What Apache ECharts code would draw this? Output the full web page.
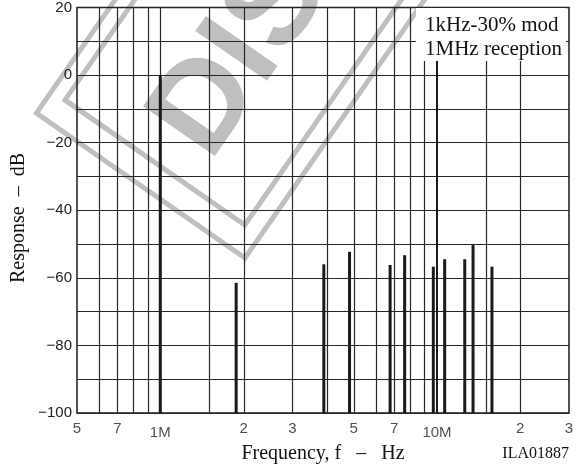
<!DOCTYPE html>
<html>
<head>
<meta charset="utf-8">
<script src="https://cdn.jsdelivr.net/npm/echarts@6/dist/echarts.min.js"></script>
<style>
  html, body { margin: 0; padding: 0; background: #ffffff; }
  #chart { width: 584px; height: 465px; }
</style>
</head>
<body>
<div id="chart"></div>
<script>
// Spectral components at the detector output: frequency (Hz) and level (dB)
const lineFreqs  = [1.0e6, 1.88e6, 3.9e6, 4.83e6, 6.77e6, 7.64e6, 9.7e6, 10.66e6, 12.6e6, 13.5e6, 15.8e6];
const lineLevels = [0, -61.5, -56, -52.3, -56.2, -53.3, -56.7, -54.5, -54.5, -50.3, -56.7];

// Log-frequency grid lines and labelled ticks
const gridFreqs  = [6e5, 7e5, 8e5, 9e5, 1e6, 1.5e6, 2e6, 3e6, 4e6, 5e6, 6e6, 7e6, 8e6, 9e6, 1e7, 1.5e7, 2e7];
const heavyFreqs = [1e7];
const tickFreqs  = [5e5, 7e5, 1e6, 2e6, 3e6, 5e6, 7e6, 1e7, 2e7, 3e7];
const tickLabels = ['5', '7', '1M', '2', '3', '5', '7', '10M', '2', '3'];

// Response axis
const yMin = -100, yMax = 20, yStep = 10;
const yLabelValues = [20, 0, -20, -40, -60, -80, -100];

const GRID_COLOR = '#262626';
const STAMP_GREY = '#bfbfc1';
const SANS = '"Liberation Sans", Arial, sans-serif';
const SERIF = '"Liberation Serif", "Times New Roman", serif';

const chart = echarts.init(document.getElementById('chart'), null, { renderer: 'canvas' });

const option = {
  animation: false,
  backgroundColor: '#ffffff',
  grid: {
    left: 77, right: 15, top: 7, bottom: 52,
    show: true, borderColor: '#1a1a1a', borderWidth: 1.5, backgroundColor: 'transparent'
  },
  xAxis: {
    type: 'log', logBase: 10, min: 5e5, max: 3e7,
    axisLine: { show: false },
    axisTick: { show: false },
    axisLabel: { show: false },
    splitLine: { show: false },
    minorSplitLine: { show: false }
  },
  yAxis: {
    type: 'value', min: yMin, max: yMax, interval: yStep,
    axisLine: { show: false },
    axisTick: { show: false },
    axisLabel: {
      margin: 5,
      color: '#222',
      fontSize: 15,
      fontFamily: SANS,
      formatter: v => yLabelValues.includes(v) ? String(v).replace('-', '\u2212') : ''
    },
    splitLine: { show: true, lineStyle: { color: GRID_COLOR, width: 1.2 } }
  },
  series: [
    {
      // vertical log grid
      type: 'custom',
      name: 'grid',
      silent: true,
      z: 1,
      data: gridFreqs.map(f => [f]),
      renderItem: (params, api) => {
        const f = api.value(0);
        const top = api.coord([f, yMax]);
        const bot = api.coord([f, yMin]);
        const heavy = heavyFreqs.includes(f);
        const x = heavy ? Math.round(top[0]) : Math.round(top[0]) + 0.5;
        return {
          type: 'line',
          shape: { x1: x, y1: top[1], x2: x, y2: bot[1] },
          style: { stroke: heavy ? '#1a1a1a' : GRID_COLOR, lineWidth: heavy ? 2 : 1.2 }
        };
      }
    },
    {
      // spectral lines
      type: 'custom',
      name: 'response',
      silent: true,
      z: 3,
      data: lineFreqs.map((f, i) => [f, lineLevels[i]]),
      renderItem: (params, api) => {
        const f = api.value(0);
        const topPt = api.coord([f, api.value(1)]);
        const botPt = api.coord([f, yMin]);
        const w = 3;
        return {
          type: 'rect',
          shape: { x: topPt[0] - w / 2, y: topPt[1], width: w, height: botPt[1] - topPt[1] },
          style: { fill: '#1a1a1a' }
        };
      }
    },
    {
      // frequency tick labels
      type: 'scatter',
      name: 'ticks',
      silent: true,
      clip: false,
      symbolSize: 0.01,
      itemStyle: { color: 'transparent' },
      data: tickFreqs.map((f, i) => ({
        value: [f, yMin],
        name: tickLabels[i],
        label: { distance: tickLabels[i].includes('M') ? 12 : 8 }
      })),
      label: {
        show: true,
        position: 'bottom',
        formatter: '{b}',
        color: '#222',
        fontSize: 15,
        fontFamily: SANS
      }
    }
  ],
  graphic: {
    elements: [
      {
        type: 'group',
        x: 245, y: 258,
        rotation: 55.2 * Math.PI / 180,
        silent: true,
        z: -1,
        children: [
          { type: 'rect', z: -1, shape: { x: 0, y: -254, width: 1200, height: 254 },
            style: { fill: 'none', stroke: STAMP_GREY, lineWidth: 5 } },
          { type: 'rect', z: -1, shape: { x: 27, y: -238, width: 1200, height: 219 },
            style: { fill: 'none', stroke: STAMP_GREY, lineWidth: 5 } },
          { type: 'text', z: -1, x: 58, y: -118,
            style: { text: 'DISCONTINUED', fill: STAMP_GREY, fontSize: 127, fontWeight: 'bold',
                     fontFamily: SANS, align: 'left', verticalAlign: 'middle' } }
        ]
      },
      {
        type: 'rect', z: 50, silent: true,
        shape: { x: 416, y: 8, width: 150, height: 53 },
        style: { fill: '#ffffff' }
      },
      {
        type: 'text', z: 51, silent: true, x: 425, y: 25,
        style: { text: '1kHz-30% mod', fill: '#111', fontSize: 21, fontFamily: SERIF,
                 align: 'left', verticalAlign: 'middle' }
      },
      {
        type: 'text', z: 51, silent: true, x: 425, y: 49,
        style: { text: '1MHz reception', fill: '#111', fontSize: 21, fontFamily: SERIF,
                 align: 'left', verticalAlign: 'middle' }
      },
      {
        type: 'text', z: 51, silent: true, x: 19, y: 218, rotation: Math.PI / 2,
        style: { text: 'Response  \u2013  dB', fill: '#111', fontSize: 20, fontFamily: SERIF,
                 align: 'center', verticalAlign: 'middle' }
      },
      {
        type: 'text', z: 51, silent: true, x: 323, y: 454,
        style: { text: 'Frequency, f   \u2013   Hz', fill: '#111', fontSize: 20, fontFamily: SERIF,
                 align: 'center', verticalAlign: 'middle' }
      },
      {
        type: 'text', z: 51, silent: true, x: 569, y: 454,
        style: { text: 'ILA01887', fill: '#111', fontSize: 16, fontFamily: SERIF,
                 align: 'right', verticalAlign: 'middle' }
      }
    ]
  }
};

chart.setOption(option);
</script>
</body>
</html>
